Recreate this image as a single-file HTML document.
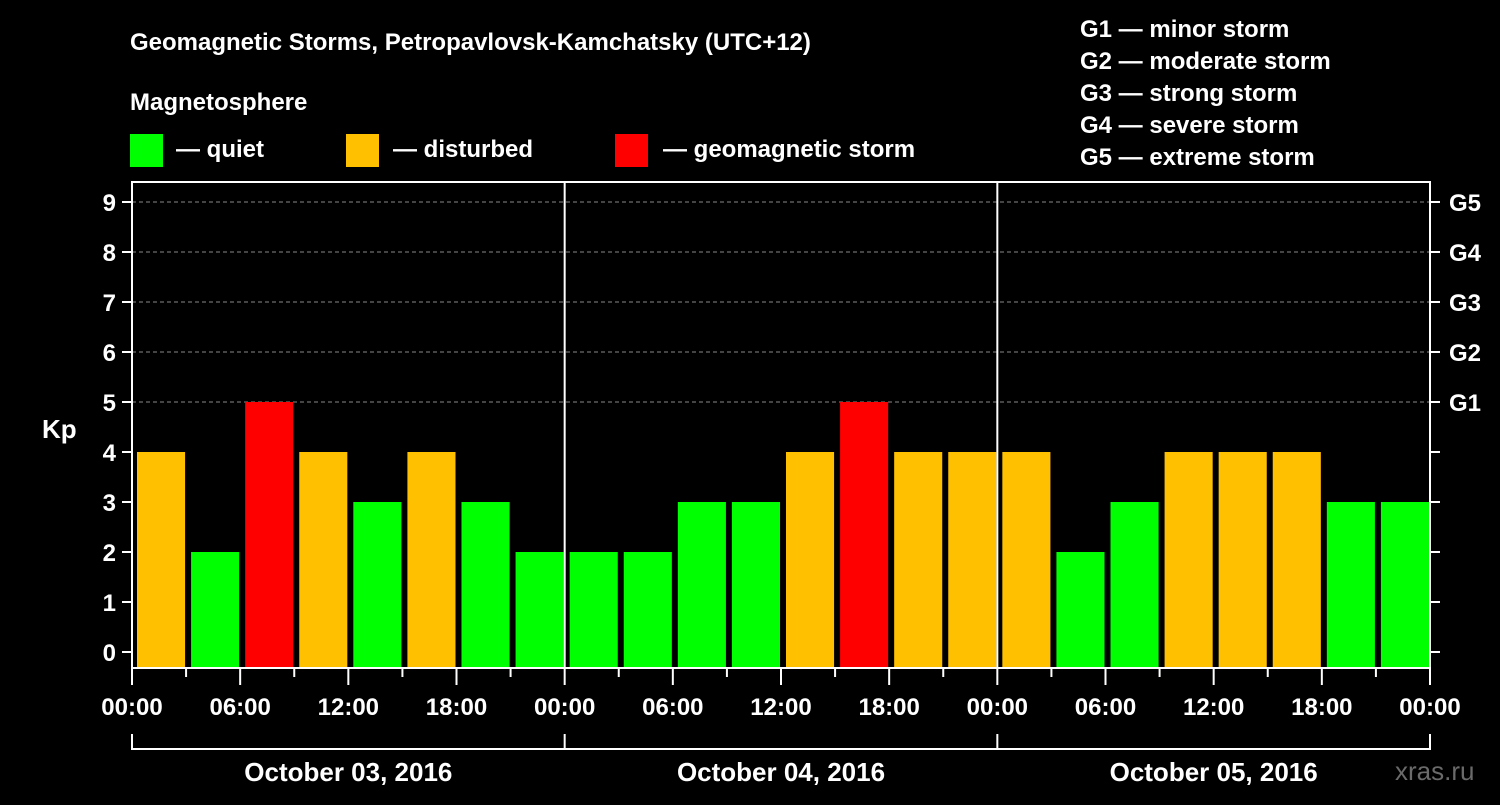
<!DOCTYPE html>
<html><head><meta charset="utf-8"><style>
body{margin:0;background:#000;}
svg text{font-family:"Liberation Sans",Arial,sans-serif;font-weight:bold;fill:#fff;}
</style></head><body>
<svg id="c" width="1500" height="800" xmlns="http://www.w3.org/2000/svg">
<rect width="1500" height="800" fill="#000"/>
<text x="130" y="50" font-size="24">Geomagnetic Storms, Petropavlovsk-Kamchatsky (UTC+12)</text>
<text x="130" y="110" font-size="24">Magnetosphere</text>
<g><rect x="130" y="134" width="33" height="33" fill="#00ff00"/><text x="176" y="157" font-size="24">— quiet</text></g>
<g><rect x="346" y="134" width="33" height="33" fill="#ffc000"/><text x="393" y="157" font-size="24">— disturbed</text></g>
<g><rect x="615" y="134" width="33" height="33" fill="#ff0000"/><text x="663" y="157" font-size="24">— geomagnetic storm</text></g>
<g font-size="24">
<text x="1080" y="37">G1 — minor storm</text>
<text x="1080" y="69">G2 — moderate storm</text>
<text x="1080" y="101">G3 — strong storm</text>
<text x="1080" y="133">G4 — severe storm</text>
<text x="1080" y="165">G5 — extreme storm</text>
</g>
<g id="plot"></g>
<text x="42" y="438" font-size="26">Kp</text>
<text x="1395" y="780" font-size="26" fill="#777" style="fill:#6a6a6a;font-weight:normal">xras.ru</text>
</svg>
<script>
const days=["October 03, 2016","October 04, 2016","October 05, 2016"];
const kp=[4,2,5,4,3,4,3,2, 2,2,3,3,4,5,4,4, 4,2,3,4,4,4,3,3];
const hourLabels=["00:00","06:00","12:00","18:00"];
const gLabels=["G1","G2","G3","G4","G5"];
const L=132,R=1430,T=182,B=668;
const dayW=(R-L)/days.length, slot=dayW/8;
const y=v=>652-50*v;
const xs=i=>L+i*slot;
const g=document.getElementById('plot');
const NS="http://www.w3.org/2000/svg";
function mk(t,a,p){const e=document.createElementNS(NS,t);for(const k in a)e.setAttribute(k,a[k]);(p||g).appendChild(e);return e;}
for(let v=5;v<=9;v++){const l=mk('line',{x1:L,x2:R,y1:y(v),y2:y(v),stroke:'#888','stroke-dasharray':'4,3','stroke-width':1});

}
kp.forEach((v,i)=>{const c=v>=5?'#ff0000':v>=4?'#ffc000':'#00ff00';
const r=mk('rect',{x:xs(i)+5,y:y(v),width:slot-6,height:B-y(v),fill:c});

});
mk('rect',{x:L,y:T,width:R-L,height:B-T,fill:'none',stroke:'#fff','stroke-width':2});
for(let d=1;d<days.length;d++)mk('line',{x1:L+d*dayW,x2:L+d*dayW,y1:T,y2:B,stroke:'#fff','stroke-width':2});
for(let v=0;v<=9;v++){
mk('line',{x1:L-10,x2:L,y1:y(v),y2:y(v),stroke:'#fff','stroke-width':2});
mk('line',{x1:R,x2:R+10,y1:y(v),y2:y(v),stroke:'#fff','stroke-width':2});
const t=mk('text',{x:L-16,y:y(v)+9,'font-size':24,'text-anchor':'end'});t.textContent=v;


if(v>=5){const gt=mk('text',{x:1449,y:y(v)+9,'font-size':24});gt.textContent=gLabels[v-5];

}
}
for(let i=0;i<=kp.length;i++){const x=xs(i),maj=i%2==0;
mk('line',{x1:x,x2:x,y1:B,y2:B+(maj?17:9),stroke:'#fff','stroke-width':2});
if(maj){const t=mk('text',{x:x,y:715,'font-size':24,'text-anchor':'middle'});t.textContent=hourLabels[(i/2)%4];

}}
mk('line',{x1:L,x2:R,y1:749,y2:749,stroke:'#fff','stroke-width':2});
for(let d=0;d<=days.length;d++)mk('line',{x1:L+d*dayW,x2:L+d*dayW,y1:734,y2:750,stroke:'#fff','stroke-width':2});
days.forEach((s,d)=>{const t=mk('text',{x:L+(d+0.5)*dayW,y:781,'font-size':26,'text-anchor':'middle'});t.textContent=s;

});
</script>
</body></html>
